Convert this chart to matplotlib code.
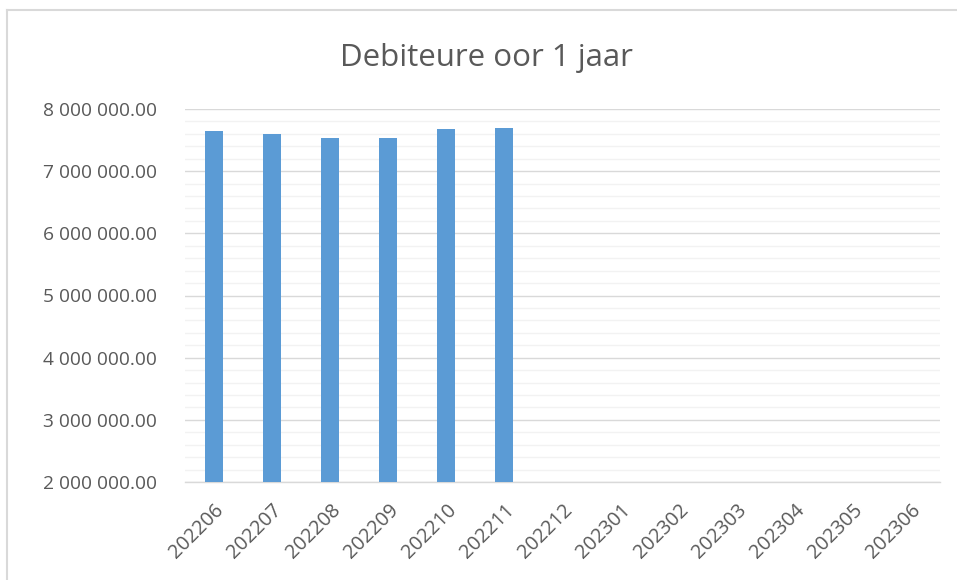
import matplotlib.pyplot as plt
from matplotlib.ticker import MultipleLocator, FuncFormatter
from matplotlib.lines import Line2D

# data
months = ["202206", "202207", "202208", "202209", "202210", "202211", "202212",
          "202301", "202302", "202303", "202304", "202305", "202306"]
debiteure = [7653000, 7595000, 7530000, 7530000, 7676000, 7690000]

text_col = "#595959"
plt.rcParams["font.family"] = ["Open Sans", "DejaVu Sans"]

fig = plt.figure(figsize=(9.57, 5.8), dpi=100)
ax = fig.add_axes([185 / 957, 1 - 482 / 580, (940 - 185) / 957, (482 - 109) / 580])

x = list(range(len(months)))
ax.bar(x[:len(debiteure)], debiteure, width=0.31, color="#5b9bd5", zorder=3)

ax.set_xlim(-0.5, len(months) - 0.5)
ax.set_ylim(2000000, 8000000)

# y axis, space as thousands separator
ax.yaxis.set_major_locator(MultipleLocator(1000000))
ax.yaxis.set_minor_locator(MultipleLocator(200000))
ax.yaxis.set_major_formatter(FuncFormatter(lambda v, p: f"{v:,.2f}".replace(",", " ")))
ax.grid(axis="y", which="major", color="#d9d9d9", linewidth=1, zorder=1)
ax.grid(axis="y", which="minor", color="#f2f2f2", linewidth=1, zorder=0)
ax.tick_params(axis="y", which="both", length=0, pad=20, labelsize=13.8, labelcolor=text_col)

ax.set_xticks(x)
ax.set_xticklabels(months, rotation=45, ha="right", rotation_mode="anchor")
ax.tick_params(axis="x", length=0, pad=13, labelsize=14.3, labelcolor=text_col)

for s in ["left", "right", "top"]:
    ax.spines[s].set_visible(False)
ax.spines["bottom"].set_color("#d9d9d9")
ax.spines["bottom"].set_linewidth(1)

fig.text(486 / 957, 1 - 66 / 580, "Debiteure oor 1 jaar", ha="center", va="baseline",
         fontsize=22.5, color=text_col)

# chart border (only top and left edges are inside the picture)
fig.add_artist(Line2D([7 / 957, 7 / 957], [0, 1 - 10 / 580], color="#d9d9d9", linewidth=1.5,
                      transform=fig.transFigure))
fig.add_artist(Line2D([7 / 957, 1], [1 - 10 / 580, 1 - 10 / 580], color="#d9d9d9", linewidth=1.5,
                      transform=fig.transFigure))

fig.savefig("out.png", dpi=100)
